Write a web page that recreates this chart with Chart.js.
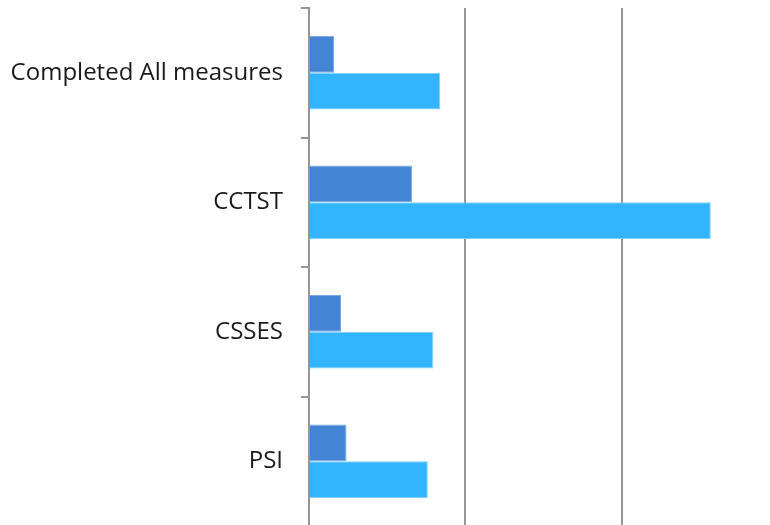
<!DOCTYPE html>
<html>
<head>
<meta charset="utf-8">
<script src="https://cdn.jsdelivr.net/npm/chart.js@4"></script>
<style>
  html, body { margin: 0; padding: 0; background: #ffffff; overflow: hidden; }
  #wrap { position: relative; width: 778px; height: 526px; }
</style>
</head>
<body>
<div id="wrap"><canvas id="chart"></canvas></div>
<script>
// Measures, top to bottom
const categories = ["Completed All measures", "CCTST", "CSSES", "PSI"];
// Two series per measure
const seriesA = [1.6, 6.6, 2.05, 2.4];
const seriesB = [8.4, 25.7, 7.95, 7.6];
const seriesNames = ["Series 1", "Series 2"];
// Value axis: gridlines every 10
const axisMin = 0;
const axisMax = 30;
const axisStep = 10;

const axisGray = "#959595";

new Chart(document.getElementById("chart"), {
  type: "bar",
  data: {
    labels: categories,
    datasets: [
      {
        label: seriesNames[0],
        data: seriesA,
        backgroundColor: "#4484d4",
        borderColor: "#7ea8e2",
        borderWidth: 1,
        borderSkipped: "start"
      },
      {
        label: seriesNames[1],
        data: seriesB,
        backgroundColor: "#32b4ff",
        borderColor: "#80d0ff",
        borderWidth: 1,
        borderSkipped: "start"
      }
    ]
  },
  options: {
    indexAxis: "y",
    responsive: true,
    maintainAspectRatio: false,
    animation: false,
    layout: { padding: { top: 8, right: 0, bottom: 0, left: 0 } },
    datasets: {
      bar: { categoryPercentage: 0.567, barPercentage: 1.0 }
    },
    plugins: {
      legend: { display: false },
      tooltip: { enabled: false }
    },
    scales: {
      x: {
        min: axisMin,
        max: axisMax,
        ticks: { display: false, stepSize: axisStep },
        grid: {
          color: axisGray,
          lineWidth: 2,
          drawTicks: false
        },
        border: { display: false }
      },
      y: {
        afterFit: (scale) => {
          // fixed label column; no extra room above/below the bands
          scale.width = 309;
          scale.paddingTop = 0;
          scale.paddingBottom = 0;
        },
        ticks: {
          color: "#1a1a1a",
          padding: 18,
          font: { family: "Open Sans", size: 24 }
        },
        grid: {
          drawOnChartArea: false,
          drawTicks: true,
          tickLength: 8,
          color: axisGray,
          lineWidth: 2
        },
        border: { display: true, color: axisGray, width: 2 }
      }
    }
  }
});
</script>
</body>
</html>
